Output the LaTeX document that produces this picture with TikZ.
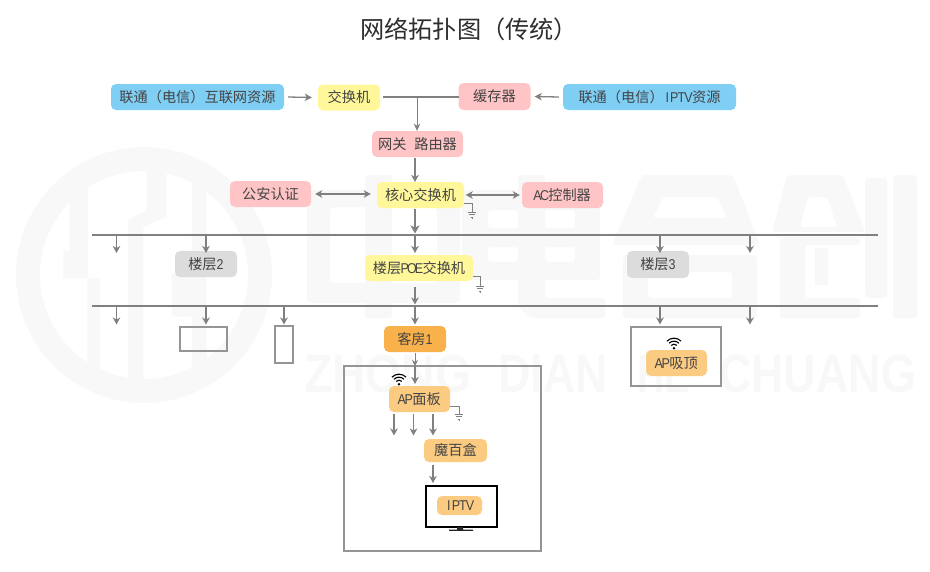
\documentclass[tikz,border=0pt]{standalone}
\usepackage{fontspec}
\setmainfont{Noto Sans CJK SC}
\newfontfamily\wmfont[BoldFont={Liberation Sans Bold}]{Liberation Sans}
\newfontfamily\lat{Liberation Sans}
\usetikzlibrary{arrows.meta}
\definecolor{wm}{HTML}{F8F8F8}
\definecolor{ln}{HTML}{808080}
\definecolor{frm}{HTML}{959595}
\definecolor{tx}{HTML}{444444}
\definecolor{cblue}{HTML}{7FCEF4}
\definecolor{cyel}{HTML}{FFF79A}
\definecolor{cpink}{HTML}{FFC4C6}
\definecolor{cgrey}{HTML}{DCDCDC}
\definecolor{corg}{HTML}{F9B14B}
\definecolor{clor}{HTML}{FCCB82}
\newcommand\hw[1]{\makebox[.5em]{\lat\scalebox{.88}[1]{#1}}}
\tikzset{
  bx/.style args={#1/#2}{minimum width=#1pt,minimum height=#2pt,inner sep=0pt,rounded corners=5pt,text=tx,
    font=\fontsize{14.2}{16}\selectfont},
  arr/.style={draw=ln,line width=1.3pt,-{Stealth[length=7pt,width=7.5pt,inset=2pt]}},
  biarr/.style={draw=ln,line width=1.3pt,{Stealth[length=7pt,width=7.5pt,inset=2pt]}-{Stealth[length=7pt,width=7.5pt,inset=2pt]}},
  busline/.style={draw=ln,line width=2pt},
  frame/.style={draw=frm,line width=2pt,fill=none,inner sep=0pt},
  gnd/.style={draw=ln,line width=.8pt},
  wifi/.pic={
    \begin{scope}[y=1pt,line width=1.1pt,black]
      \fill (0,-4.2) circle (1.3pt);
      \draw (0,-4.2) ++(45:4pt) arc[start angle=45,end angle=135,radius=4pt];
      \draw (0,-4.2) ++(45:7pt) arc[start angle=45,end angle=135,radius=7pt];
      \draw (0,-4.2) ++(45:10pt) arc[start angle=45,end angle=135,radius=10pt];
    \end{scope}
  },
  groundsym/.pic={
    \draw[gnd] (-4.2,0) -- (4.2,0) (-2.8,2.7) -- (2.8,2.7) (-1.4,5.4) -- (1.4,5.4) (0,5.4) -- (0,7);
  }
}
\begin{document}
\begin{tikzpicture}[x=1pt,y=-1pt]
\useasboundingbox (0,0) rectangle (930,571);
% ---- watermark
\fill[wm,even odd rule] (144,275) circle (128pt) (144,275) circle (104pt);
\begin{scope}
  \clip (144,275) circle (104.5pt);
  \begin{scope}[shift={(10,140)},x=.33333pt,y=-.33333pt]
    \fill[wm] (178,90) -- (235,90) -- (235,415) -- (232,415) -- (232,720) -- (270,720) -- (270,415) -- (235,415) -- (160,415) -- (160,333) -- (178,333) -- cycle;
    \fill[wm] (410,80) -- (470,80) -- (470,230) -- (400,262) -- (400,730) -- (355,730) -- (355,240) -- (410,210) -- cycle;
    \fill[wm] (545,90) -- (590,90) -- (590,720) -- (545,720) -- (545,530) -- (485,530) -- (485,400) -- (545,400) -- cycle;
  \end{scope}
\end{scope}
\fill[wm,even odd rule,rounded corners=4pt] (307,190) rectangle (460,303) (330,207) rectangle (437,283);
\fill[wm,rounded corners=3pt] (365,175) rectangle (392,318);
\fill[wm,even odd rule,rounded corners=3pt] (462,190) rectangle (600,280)
   (488,210) rectangle (518,228) (545,210) rectangle (575,228) (488,247) rectangle (518,262) (545,247) rectangle (575,262);
\fill[wm,rounded corners=3pt] (518,175) -- (545,175) -- (545,298) -- (605,298) -- (605,318) -- (530,318) -- (518,306) -- cycle;
\fill[wm,even odd rule,rounded corners=3pt] (642,175) -- (733,175) -- (760,245) -- (612,245) -- cycle (663,197) -- (717,197) -- (727,218) -- (653,218) -- cycle;
\fill[wm,even odd rule,rounded corners=3pt] (623,255) rectangle (757,318) (648,272) rectangle (732,298);
\fill[wm,even odd rule,rounded corners=3pt] (787,175) -- (843,175) -- (865,232) -- (772,232) -- cycle (808,197) -- (827,197) -- (837,227) -- (800,227) -- cycle;
\fill[wm,rounded corners=3pt] (780,237) -- (860,237) -- (860,245) -- (805,245) -- (805,298) -- (860,298) -- (860,318) -- (780,318) -- cycle;
\fill[wm] (815,248) rectangle (828,285);
\fill[wm,rounded corners=3pt] (865,178) rectangle (887,298);
\fill[wm,rounded corners=3pt] (893,175) rectangle (917,318);
\node[wm,anchor=base west,inner sep=0pt,font=\wmfont\bfseries\fontsize{54}{54}\selectfont] (wm1) at (304,392) {\scalebox{.857}[1]{ZHONG}};
\node[wm,anchor=base west,inner sep=0pt,font=\wmfont\bfseries\fontsize{54}{54}\selectfont] (wm2) at (498,392) {\scalebox{.83}[1]{DIAN}};
\node[wm,anchor=base west,inner sep=0pt,font=\wmfont\bfseries\fontsize{54}{54}\selectfont] (wm3) at (637,392) {\scalebox{.7}[1]{HE}};
\node[wm,anchor=base west,inner sep=0pt,font=\wmfont\bfseries\fontsize{54}{54}\selectfont] (wm4) at (719,392) {\scalebox{.83}[1]{CHUANG}};
% ---- title
\node[text=black!82,font=\fontsize{24.2}{26}\selectfont,inner sep=0pt,anchor=west] (title) at (360,29) {网络拓扑图（传统）};
% ---- frames
\node[frame,minimum width=197pt,minimum height=185pt] (roomframe) at (442.5,458.5) {};
\node[frame,minimum width=90pt,minimum height=59pt] (apframe) at (676,356.5) {};
\node[frame,minimum width=47pt,minimum height=24pt] (rectA) at (203.5,339) {};
\node[frame,minimum width=18pt,minimum height=37pt] (rectB) at (284,344.5) {};
% ---- nodes
\node[bx=173/26,fill=cblue] (net) at (197.5,97) {联通（电信）互联网资源};
\node[bx=62/26,fill=cyel] (sw) at (349,97.5) {交换机};
\node[bx=72/27,fill=cpink] (cache) at (494.5,96.5) {缓存器};
\node[bx=173/26,fill=cblue] (iptvres) at (649.5,97) {联通（电信）\hw{I}\hw{P}\hw{T}\hw{V}资源};
\node[bx=91/26,fill=cpink] (gw) at (417.5,144) {网关\hspace{.55em}路由器};
\node[bx=87/26,fill=cyel] (core) at (420.5,195) {核心交换机};
\node[bx=81/26,fill=cpink] (police) at (270.5,194) {公安认证};
\node[bx=81/26,fill=cpink] (ac) at (562.5,195) {\hw{A}\hw{C}控制器};
\node[bx=62/26,fill=cgrey] (f2) at (206,264) {楼层\hw{2}};
\node[bx=62/27,fill=cgrey] (f3) at (658,264.5) {楼层\hw{3}};
\node[bx=108/26,fill=cyel] (poe) at (419,268) {楼层\hw{P}\hw{O}\hw{E}交换机};
\node[bx=62/26,fill=corg] (room) at (415,339) {客房\hw{1}};
\node[bx=61/26,fill=clor] (appanel) at (419.5,399) {\hw{A}\hw{P}面板};
\node[bx=61/26,fill=clor] (apceil) at (676.5,363) {\hw{A}\hw{P}吸顶};
\node[bx=63/23,fill=clor] (box) at (455.5,450.5) {魔百盒};
% ---- TV
\node[draw=black,line width=2pt,minimum width=71pt,minimum height=41pt,inner sep=0pt] (tv) at (461,506) {};
\node[bx=45/19,fill=clor] (iptv) at (459.5,505.5) {\hw{I}\hw{P}\hw{T}\hw{V}};
\coordinate (tvb) at (460,527);
\fill[black!85] (457,527) rectangle (463,529.5) (449,529.5) rectangle (473,530.8);
% ---- bus lines
\coordinate (b1l) at (92,234.5); \coordinate (b1r) at (878,234.5);
\coordinate (b2l) at (92,305.5); \coordinate (b2r) at (878,305.5);
\draw[busline] (b1l) -- (b1r);
\draw[busline] (b2l) -- (b2r);
% ---- top connectors
\coordinate (sj) at (417,97);
\coordinate (sja) at (383,97);
\coordinate (sjb) at (459,97);
\draw[arr] ([xshift=4pt]net.east) -- ([xshift=-6pt]sw.west);
\draw[arr] ([xshift=-4pt]iptvres.west) -- ([xshift=4pt]cache.east);
\draw[busline] (sja) -- (sjb);
\draw[draw=ln,line width=1pt,-{Stealth[length=7pt,width=6.5pt,inset=2pt]}] (sj) -- (gw.north -| sj);
\coordinate (gwb) at (415,157.5); \coordinate (cot) at (415,182);
\draw[arr] (gwb) -- (cot);
\draw[biarr] ([xshift=4pt]police.east) -- ([xshift=-6pt]police.east -| core.west);
\draw[biarr] ([xshift=1.5pt,yshift=0pt]core.east) -- ([xshift=-2pt]ac.west);
\coordinate (cob) at (415,209); \coordinate (b1c) at (415,233.5);
\draw[draw=ln,line width=2pt,-{Stealth[length=8pt,width=9pt,inset=2pt]}] (cob) -- (b1c);
% ---- bus drops
\foreach \nm/\xx in {a/116.5,b/206,c/415,d/660,e/750}{
  \coordinate (t\nm) at (\xx,236);
  \coordinate (u\nm) at (\xx,253);
  \draw[arr] (t\nm) -- (u\nm);
}
\foreach \nm/\xx in {a/116.5,b/206,f/284,c/415,d/660,e/750}{
  \coordinate (v\nm) at (\xx,307);
  \coordinate (w\nm) at (\xx,324.5);
  \draw[arr] (v\nm) -- (w\nm);
}
\coordinate (pd1) at (415,287); \coordinate (pd2) at (415,304.5);
\draw[arr] (pd1) -- (pd2);
% ---- room
\coordinate (ra) at (415,352.5); \coordinate (rb) at (415,366); \coordinate (rc) at (415,384);
\draw[draw=ln,line width=.9pt,-{Stealth[length=6pt,width=6pt,inset=2pt]}] (ra) -- (rb);
\draw[arr] (rb) -- (rc);
\foreach \nm/\xx in {a/394,b/413.5,c/433}{
  \coordinate (x\nm) at (\xx,414); \coordinate (y\nm) at (\xx,435.5);
  \draw[arr] (x\nm) -- (y\nm);
}
\coordinate (bxa) at (433,465); \coordinate (bxb) at (433,483);
\draw[arr] (bxa) -- (bxb);
% ---- grounds
\coordinate (g1) at (464,203); \coordinate (g1a) at (472,203); \coordinate (g1b) at (472,212);
\draw[gnd] (g1) -- (g1a) -- (g1b); \pic at (g1b) {groundsym};
\coordinate (g2) at (473,276); \coordinate (g2a) at (480,276); \coordinate (g2b) at (480,286);
\draw[gnd] (g2) -- (g2a) -- (g2b); \pic at (g2b) {groundsym};
\coordinate (g3) at (450,406); \coordinate (g3a) at (459,406); \coordinate (g3b) at (459,414);
\draw[gnd] (g3) -- (g3a) -- (g3b); \pic at (g3b) {groundsym};
% ---- wifi
\pic at (399,380) {wifi};
\pic at (674,344) {wifi};
\end{tikzpicture}
\end{document}
